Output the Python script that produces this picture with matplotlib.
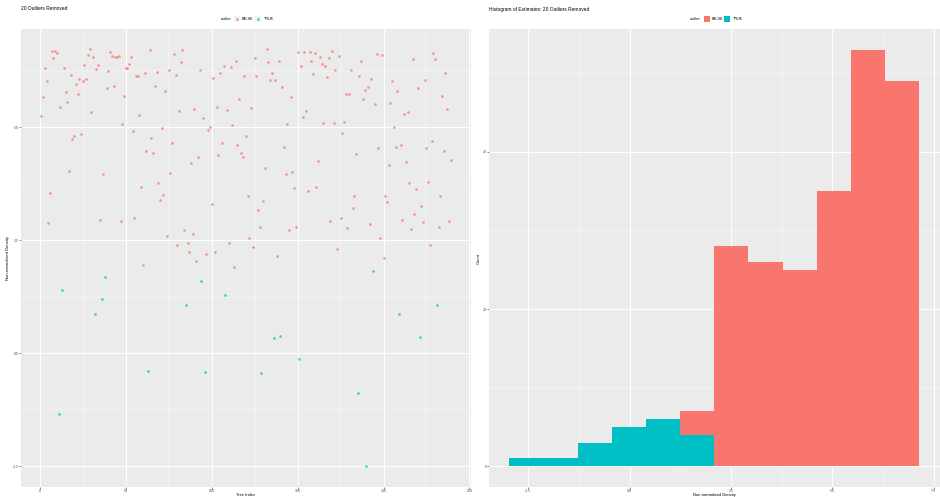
import numpy as np
import matplotlib
matplotlib.use("Agg")
import matplotlib.pyplot as plt
from matplotlib.patches import Rectangle

plt.rcParams["font.family"] = ["Liberation Sans", "DejaVu Sans"]

# ---- data -------------------------------------------------------------
tree_index = np.arange(1, 240)

density = [
    5.25, 5.67, 6.32, 6.03, 2.88, 3.54, 6.70, 6.53, 6.69, 6.64,
    -1.34, 5.45, 1.41, 6.31, 5.78, 5.56, 4.04, 6.16, 4.75, 4.80,
    5.96, 5.73, 6.07, 4.85, 6.02, 6.39, 6.07, 6.61, 6.73, 5.34,
    6.56, 0.87, 6.30, 6.38, 2.95, 1.20, 3.98, 1.70, 5.88, 6.25,
    6.66, 6.58, 5.92, 6.57, 6.57, 6.58, 2.93, 5.07, 5.70, 6.31,
    6.31, 6.40, 6.56, 4.93, 2.99, 6.15, 6.15, 5.27, 3.68, 1.95,
    6.21, 4.49, -0.40, 6.72, 4.76, 4.43, 5.91, 6.22, 3.76, 3.40,
    4.99, 3.51, 5.80, 2.60, 6.27, 3.99, 4.65, 6.63, 6.16, 2.40,
    5.37, 6.44, 6.71, 2.74, 1.08, 2.45, 2.25, 4.22, 2.65, 5.41,
    2.05, 4.34, 6.27, 1.61, 5.21, -0.41, 2.20, 4.94, 5.01, 3.31,
    6.10, 2.25, 5.45, 4.39, 6.20, 4.65, 6.35, 1.28, 5.39, 2.45,
    6.34, 5.05, 1.90, 6.47, 4.61, 5.64, 4.43, 4.35, 6.15, 4.80,
    3.48, 2.55, 5.43, 2.35, 6.54, 6.15, 3.18, 2.80, -0.43, 3.38,
    4.11, 6.73, 6.45, 6.05, 6.20, 0.33, 6.05, 2.15, 6.47, 0.39,
    5.90, 4.57, 3.97, 5.07, 2.74, 5.67, 4.02, 3.65, 2.79, 6.67,
    -0.12, 6.35, 5.24, 6.66, 5.36, 3.59, 6.67, 6.47, 6.19, 6.65,
    3.69, 4.25, 6.55, 6.40, 5.10, 6.37, 6.12, 6.54, 2.92, 6.69,
    5.09, 6.28, 2.30, 6.58, 2.99, 4.88, 5.13, 5.74, 2.78, 5.73,
    6.28, 3.22, 3.49, 4.42, -0.87, 6.13, 6.48, 5.62, 5.84, -2.50,
    5.90, 2.87, 6.08, 1.83, 5.53, 6.63, 4.54, 2.55, 6.60, 2.10,
    3.49, 3.36, 4.17, 5.54, 6.02, 5.02, 4.56, 5.81, 0.88, 4.62,
    2.96, 5.29, 4.24, 5.34, 3.76, 2.75, 6.51, 3.09, 3.63, 5.87,
    0.35, 3.26, 2.90, 6.04, 4.54, 3.79, 2.40, 4.69, 6.65, 6.51,
    1.08, 2.80, 3.48, 5.70, 4.48, 6.21, 5.40, 2.92, 4.28,
]

outlier_trees = [11, 13, 32, 36, 38, 63, 85, 94, 96, 108,
                 129, 136, 140, 151, 185, 190, 194, 209, 221, 231]

# histogram of the same estimates (12 bins)
hist_start = -2.97
bin_width = 0.843
count_false = [0, 0, 0, 0, 0, 3, 28, 26, 25, 35, 53, 49]
count_true = [1, 1, 3, 5, 6, 4, 0, 0, 0, 0, 0, 0]

level_names = ["FALSE", "TRUE"]
colors = {"FALSE": "#F8766D", "TRUE": "#00BFC4"}

# ---- styling helpers --------------------------------------------------
W, H = 940, 497
fig = plt.figure(figsize=(W / 100, H / 100), dpi=100)
fig.patch.set_facecolor("white")

def px_axes(x0, y0, x1, y1):
    return fig.add_axes([x0 / W, 1 - y1 / H, (x1 - x0) / W, (y1 - y0) / H])

def gg_style(ax, xmajor, xminor, ymajor, yminor, xfmt, yfmt):
    ax.set_facecolor("#EBEBEB")
    for s in ax.spines.values():
        s.set_visible(False)
    ax.set_xticks(xmajor)
    ax.set_xticks(xminor, minor=True)
    ax.set_yticks(ymajor)
    ax.set_yticks(yminor, minor=True)
    ax.set_xticklabels([xfmt(v) for v in xmajor])
    ax.set_yticklabels([yfmt(v) for v in ymajor])
    ax.grid(which="major", color="white", linewidth=0.7)
    ax.grid(which="minor", color="white", linewidth=0.35)
    ax.set_axisbelow(True)
    ax.tick_params(which="major", length=1.2, width=0.4, color="#333333",
                   labelsize=2.6, labelcolor="#4D4D4D", pad=0.5)
    ax.tick_params(which="minor", length=0)

fmt1 = lambda v: f"{v:.1f}"
fmt0 = lambda v: f"{v:g}"

# ---- left: scatter of estimates by tree --------------------------------
ax1 = px_axes(21, 29, 471, 487)
is_out = np.isin(tree_index, outlier_trees)
dens = np.asarray(density)
for lvl, mask in (("FALSE", ~is_out), ("TRUE", is_out)):
    ax1.plot(tree_index[mask], dens[mask], "o", ms=1.9, mew=0,
             color=colors[lvl], alpha=0.75)
ax1.set_xlim(-10.9, 250.9)
ax1.set_ylim(-2.96, 7.18)
gg_style(ax1, [0, 50, 100, 150, 200, 250], [25, 75, 125, 175, 225],
         [-2.5, 0.0, 2.5, 5.0], [-1.25, 1.25, 3.75, 6.25], fmt0, fmt1)
ax1.set_ylabel("Non-normalized Density", fontsize=3.0, labelpad=1.5)

# ---- right: stacked histogram ------------------------------------------
ax2 = px_axes(489, 29, 940, 487)
lefts = hist_start + bin_width * np.arange(len(count_true))
ax2.bar(lefts, count_true, width=bin_width, align="edge",
        color=colors["TRUE"], linewidth=0)
ax2.bar(lefts, count_false, width=bin_width, align="edge",
        bottom=count_true, color=colors["FALSE"], linewidth=0)
ax2.set_xlim(-3.47, 7.66)
ax2.set_ylim(-2.65, 55.65)
gg_style(ax2, [-2.5, 0.0, 2.5, 5.0, 7.5], [-1.25, 1.25, 3.75, 6.25],
         [0, 20, 40], [10, 30, 50], fmt1, fmt0)
ax2.set_ylabel("Count", fontsize=3.0, labelpad=1.5)

# x-axis titles sit just under the tick labels
fig.text(246 / W, 1 - 495.2 / H, "Tree Index", fontsize=2.9,
         ha="center", va="center")
fig.text(714 / W, 1 - 495.2 / H, "Non-normalized Density", fontsize=2.9,
         ha="center", va="center")

# ---- titles -----------------------------------------------------------
fig.text(21 / W, 1 - 9 / H, "20 Outliers Removed", fontsize=3.5,
         va="center", ha="left", color="black")
fig.text(489 / W, 1 - 9 / H, "Histogram of Estimates: 20 Outliers Removed",
         fontsize=3.5, va="center", ha="left", color="black")

# ---- legends ----------------------------------------------------------
def draw_legend(x_title, x_keys, x_labels, kind):
    yc = 19
    fig.text(x_title / W, 1 - yc / H, "outlier", fontsize=2.9,
             va="center", ha="left")
    for lvl, xk, xl in zip(level_names, x_keys, x_labels):
        if kind == "point":
            fig.patches.append(Rectangle((xk / W, 1 - (yc + 3) / H), 6 / W, 6 / H,
                                         transform=fig.transFigure,
                                         facecolor="#F2F2F2", edgecolor="none"))
            fig.lines.append(plt.Line2D([(xk + 3) / W], [1 - yc / H], marker="o",
                                        ms=1.9, mew=0, color=colors[lvl], alpha=0.75,
                                        transform=fig.transFigure))
        else:
            fig.patches.append(Rectangle((xk / W, 1 - (yc + 3) / H), 6 / W, 6 / H,
                                         transform=fig.transFigure,
                                         facecolor=colors[lvl], edgecolor="none"))
        fig.text(xl / W, 1 - yc / H, lvl, fontsize=2.7, va="center", ha="left")

draw_legend(221, [233.5, 255], [242, 264], "point")
draw_legend(690, [703.5, 724], [711.5, 733], "bar")

fig.savefig("out.png", dpi=100)
